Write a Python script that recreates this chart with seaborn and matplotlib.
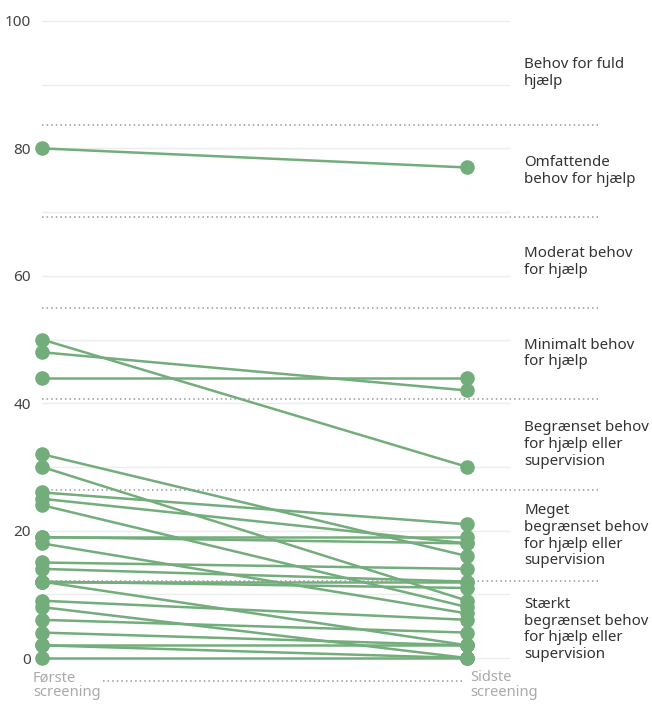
import numpy as np
import pandas as pd
import seaborn as sns
import matplotlib.pyplot as plt

# scores at first and last screening, one pair per person
first_scores = [80, 50, 48, 44, 32, 30, 26, 25, 24, 19, 19, 18, 15, 14, 12, 12, 12, 9, 8, 6, 4, 2, 0, 2]
last_scores = [77, 30, 42, 44, 16, 9, 21, 18, 8, 19, 18, 7, 14, 12, 12, 11, 2, 6, 0, 4, 2, 2, 0, 0]

screenings = ["Første\nscreening", "Sidste\nscreening"]

# band boundaries and band labels
band_edges = [-3.6, 12.1, 26.4, 40.7, 55.0, 69.3, 83.6]
band_labels = ["Stærkt\nbegrænset behov\nfor hjælp eller\nsupervision",
               "Meget\nbegrænset behov\nfor hjælp eller\nsupervision",
               "Begrænset behov\nfor hjælp eller\nsupervision",
               "Minimalt behov\nfor hjælp",
               "Moderat behov\nfor hjælp",
               "Omfattende\nbehov for hjælp",
               "Behov for fuld\nhjælp"]
band_label_y = [4.5, 19.2, 33.5, 47.8, 62.2, 76.4, 91.8]

green = "#72ad7b"

n = len(first_scores)
df = pd.DataFrame({
    "id": list(range(n)) * 2,
    "pos": [0] * n + [1] * n,
    "score": first_scores + last_scores,
})

sns.set_style("white")
plt.rcParams['font.family'] = ['Noto Sans', 'DejaVu Sans']

fig = plt.figure(figsize=(6.52, 7.04), dpi=100)
ax = fig.add_axes([0.0644, 0.020, 0.853, 0.9638])

# light grid
ax.hlines(np.arange(0, 101, 10), 0, 1.101, color="#ececec", lw=1, zorder=0)
# dotted band lines
ax.hlines(band_edges[1:], 0, 1.308, color="#999999", lw=1.1, linestyles=(0, (1, 2)), zorder=1)
ax.hlines(band_edges[0], 0.144, 0.995, color="#999999", lw=1.1, linestyles=(0, (1, 2)), zorder=1)

sns.lineplot(data=df, x="pos", y="score", units="id", estimator=None,
             color=green, lw=1.8, marker="o", markersize=10.5, markeredgewidth=0,
             clip_on=False, ax=ax, zorder=3)

for y, lab in zip(band_label_y, band_labels):
    ax.text(1.134, y, lab, ha="left", va="center", fontsize=10.8, color="#333333", linespacing=1.15)

ax.text(-0.021, -1.9, screenings[0], ha="left", va="top", fontsize=10.6, color="#aaaaaa", linespacing=1.0)
ax.text(1.007, -1.9, screenings[1], ha="left", va="top", fontsize=10.6, color="#aaaaaa", linespacing=1.0)

ax.set_xlim(0, 1.308)
ax.set_ylim(-5, 101.5)
ax.set_yticks(range(0, 101, 20))
ax.set_xticks([])
ax.tick_params(axis="y", length=0, pad=8, labelsize=11, labelcolor="#444444")
ax.set_xlabel("")
ax.set_ylabel("")
sns.despine(ax=ax, left=True, bottom=True)
if ax.get_legend():
    ax.get_legend().remove()

fig.savefig("out.png", dpi=100)
